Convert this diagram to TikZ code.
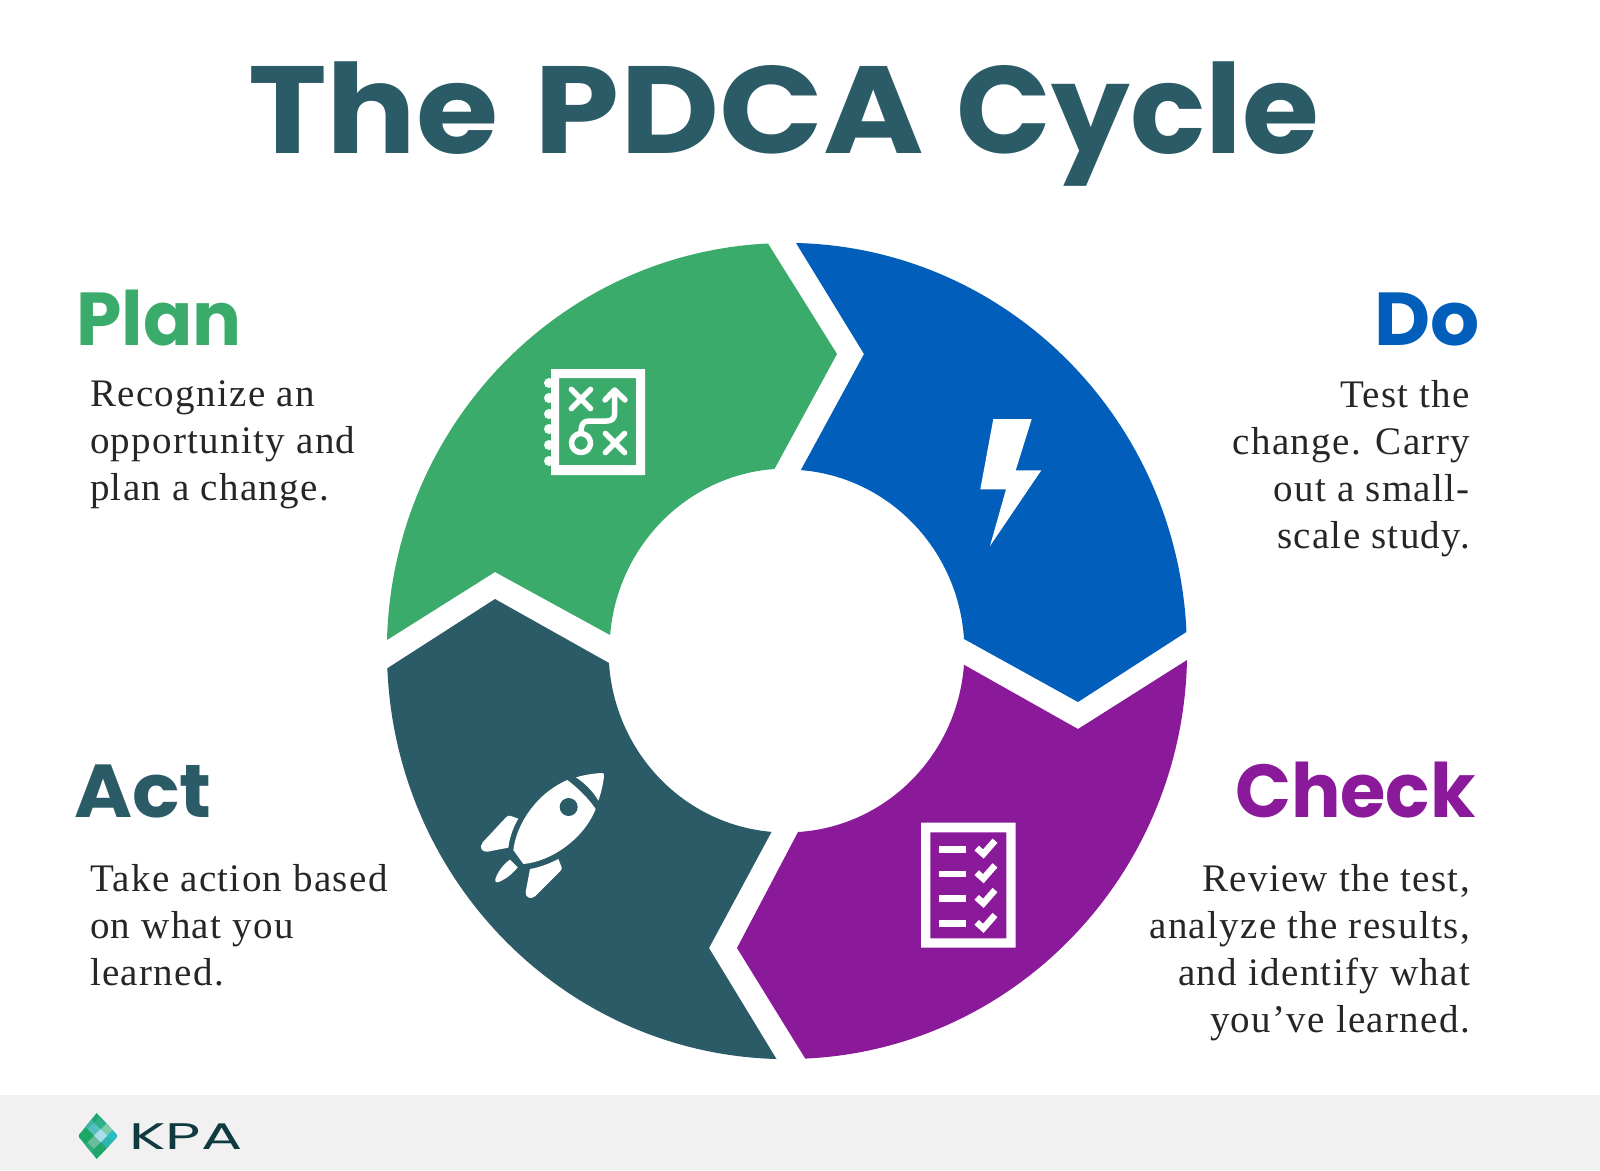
\documentclass[tikz,border=0pt]{standalone}
\usepackage{fontspec}
\newfontfamily\headfont{Poppins}
\newfontfamily\bodyfont{Liberation Serif}[LetterSpace=3.4]
\definecolor{kgreen}{HTML}{3AAB6A}
\definecolor{kblue}{HTML}{025EBB}
\definecolor{kpurple}{HTML}{8A1A99}
\definecolor{kteal}{HTML}{2B5B66}
\definecolor{kband}{HTML}{F1F1F1}
\definecolor{kink}{HTML}{0F3A40}
\definecolor{klogo}{HTML}{1FA86C}
\tikzset{
  heading/.style={inner sep=0pt,font=\headfont\bfseries\fontsize{75}{80}\selectfont},
  bodyleft/.style={inner sep=0pt,anchor=north west,align=left,font=\bodyfont\fontsize{39}{47}\selectfont,text=black!85},
  bodyright/.style={inner sep=0pt,anchor=north east,align=right,font=\bodyfont\fontsize{39}{47}\selectfont,text=black!85},
  iconline/.style={draw=white,line width=5.5pt,line cap=round,line join=round},
}
\begin{document}
\begin{tikzpicture}[x=1pt,y=1pt,yscale=-1]
\useasboundingbox (0,0) rectangle (1600,1170);
\fill[white] (0,0) rectangle (1600,1170);
\fill[kband] (0,1095) rectangle (1600,1170);
\node[inner sep=0pt,anchor=base west,text=kteal,font=\headfont\bfseries\fontsize{124}{140}\selectfont] (title) at (248,153) {\scalebox{1.075}[1]{The}\hspace{36pt}\scalebox{1.1}[1]{PDCA}\hspace{33pt}\scalebox{1.004}[1]{Cycle}};
% ring segments
\fill[kgreen] (387,640) arc[start angle=-178.45,end angle=-92.7,x radius=400pt,y radius=408pt]
  -- (837,354) -- (774.5,469) arc[start angle=-94.04,end angle=-175.26,x radius=177.5pt,y radius=181.5pt]
  -- (495,572) -- cycle;
\fill[kblue] (796,243) arc[start angle=-88.7,end angle=-2.67,x radius=400pt,y radius=408pt]
  -- (1078,702) -- (964,639) arc[start angle=-3.8,end angle=-85.5,x radius=177.5pt,y radius=181.5pt]
  -- (864,354) -- cycle;
\fill[kpurple] (1187,660) arc[start angle=1.26,end angle=87.4,x radius=400pt,y radius=408pt]
  -- (737,948) -- (798,832) arc[start angle=86.45,end angle=4.4,x radius=177.5pt,y radius=181.5pt]
  -- (1078,729) -- cycle;
\fill[kteal] (776.5,1059) arc[start angle=91.5,end angle=177.6,x radius=400pt,y radius=408pt]
  -- (495,599) -- (609,663) arc[start angle=176.2,end angle=94.7,x radius=177.5pt,y radius=181.5pt]
  -- (709,948) -- cycle;
% plan icon
\fill[white,even odd rule] (551,369) rectangle (645,475) (559,378) rectangle (636,465);
\foreach \yy in {383,398,414,429,445,461} \fill[white] (549,\yy) circle[radius=5pt];
\draw[iconline] (571.4,389.4) -- (590.6,408.6) (590.6,389.4) -- (571.4,408.6);
\draw[iconline] (605.4,433.4) -- (624.6,452.6) (624.6,433.4) -- (605.4,452.6);
\draw[iconline] (581,443) circle[radius=9.5pt];
\draw[iconline] (581,432) .. controls (581,425) and (583,421) .. (589,421) -- (607,421) .. controls (612,421) and (614.7,418) .. (614.7,413) -- (614.7,392);
\draw[iconline] (605,400) -- (614.7,390) -- (625,400);
% do icon
\fill[white] (993.3,419) -- (1031.7,419) -- (1015.7,470.3) -- (1041.3,470.3) -- (990,546) -- (1006,489.3) -- (980.3,489.3) -- cycle;
% act icon
\begin{scope}[shift={(470,760)},scale=1/3]
\fill[white] (292,60) .. controls (200,100) and (140,190) .. (130,270) -- (160,312) .. controls (240,305) and (340,240) .. (377,147) .. controls (355,115) and (325,85) .. (292,60) -- cycle;
\fill[kteal] (296,141) circle[radius=27pt];
\fill[white] (318,52) .. controls (345,44) and (375,40) .. (396,39) .. controls (402,39) and (403,43) .. (402,48) .. controls (400,70) and (393,100) .. (385,122) .. controls (370,95) and (345,70) .. (318,52) -- cycle;
\fill[white] (122,168) -- (145,176) .. controls (130,200) and (118,235) .. (115,263) -- (52,275) .. controls (36,277) and (26,262) .. (38,247) -- (108,172) .. controls (112,167) and (117,166) .. (122,168) -- cycle;
\fill[white] (265,297) -- (275,322) .. controls (276,326) and (274,330) .. (270,334) -- (195,409) .. controls (182,420) and (165,412) .. (167,396) -- (180,327) .. controls (210,322) and (240,310) .. (265,297) -- cycle;
\fill[white] (120,299) -- (143,322) .. controls (125,345) and (100,362) .. (82,367) .. controls (76,368) and (74,362) .. (76,357) .. controls (84,335) and (100,312) .. (120,299) -- cycle;
\end{scope}
% check icon
\begin{scope}[shift={(905,810)},scale=1/3]
\fill[white,even odd rule] (48,38) rectangle (332,413) (76,67) rectangle (304,385);
\foreach \dd in {0,74,148,223}{
  \fill[white] (102,108+\dd) rectangle (182,128+\dd);
  \draw[white,line width=6.5pt] (215,114+\dd) -- (235,132+\dd) -- (270,92+\dd);
}
\end{scope}
% logo
\begin{scope}[shift={(70,1105)},scale=1/3]
\clip (80,24) -- (134,82) .. controls (143,90) and (143,96) .. (134,104) -- (80,162) -- (33,104) .. controls (24,96) and (24,90) .. (33,82) -- cycle;
\fill[klogo] (20,20) rectangle (150,170);
\foreach \cx/\cy/\col in {72/72/55BFBE,112/72/7CCBA9,72/112/6ABD9A,112/112/2DB5AE,132/92/2ABCC4,92/52/2DB088,92/132/22A56C,52/92/1BA766,52/52/3FB6A5,132/52/3AB27F,52/132/2FAE7A,132/132/25B09C,92/92/A9DDEA}{
  \definecolor{ktile}{HTML}{\col}
  \fill[ktile] (\cx-20,\cy) -- (\cx,\cy-20) -- (\cx+20,\cy) -- (\cx,\cy+20) -- cycle;
}
\end{scope}
\node[inner sep=0pt,anchor=base west,text=kink,font=\headfont\fontsize{37}{40}\selectfont] (kpa) at (129,1149) {\scalebox{1.65}[1]{KPA}};
% headings
\node[heading,anchor=base west,text=kgreen] (plan) at (76,345) {\scalebox{.97}[1]{Plan}};
\node[heading,anchor=base east,text=kblue] (do) at (1480,345) {\scalebox{1.03}[1]{Do}};
\node[heading,anchor=base west,text=kteal] (act) at (74,817) {\scalebox{1.05}[1]{Act}};
\node[heading,anchor=base east,text=kpurple] (check) at (1476,817) {\scalebox{.98}[1]{Check}};
% bodies
\node[bodyleft] (plantext) at (90,380) {Recognize an\\opportunity and\\plan a change.};
\node[bodyright] (dotext) at (1470,380) {Test the\\change. Carry\\out a small-\\scale study.};
\node[bodyleft] (acttext) at (90,864) {Take action based\\on what you\\learned.};
\node[bodyright] (checktext) at (1470,864) {Review the test,\\analyze the results,\\and identify what\\you’ve learned.};
\end{tikzpicture}
\end{document}
